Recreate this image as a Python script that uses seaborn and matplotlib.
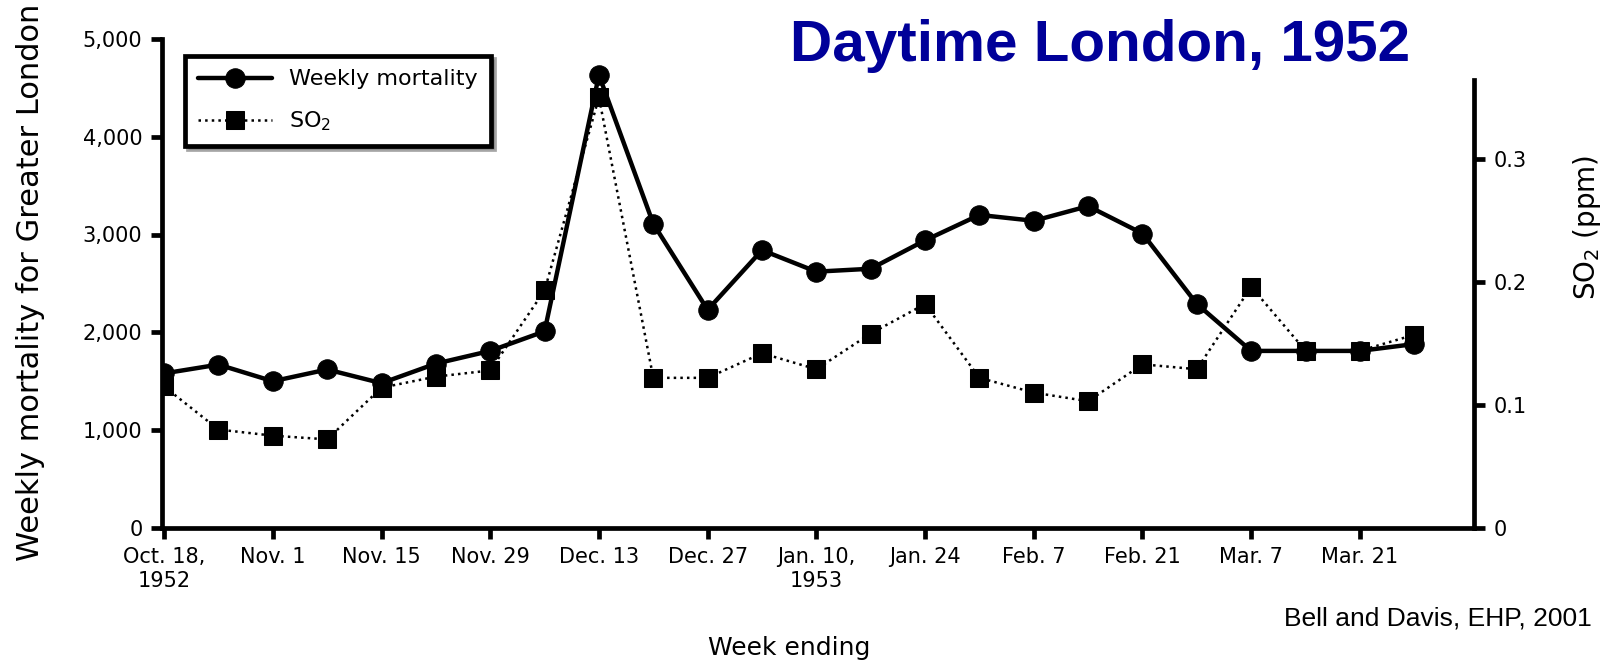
import matplotlib
matplotlib.use("Agg")
import matplotlib.pyplot as plt
import seaborn as sns

# DATA
weeks = list(range(24))
mortality = [1580, 1670, 1500, 1620, 1480, 1680, 1810, 2010, 4630, 3110,
             2230, 2840, 2620, 2650, 2940, 3200, 3140, 3290, 3010, 2290,
             1810, 1810, 1810, 1880]
so2 = [0.115, 0.080, 0.075, 0.072, 0.114, 0.123, 0.128, 0.193, 0.350, 0.122,
       0.122, 0.142, 0.129, 0.158, 0.182, 0.122, 0.110, 0.103, 0.133, 0.129,
       0.196, 0.144, 0.144, 0.157]
tick_weeks = [0, 2, 4, 6, 8, 10, 12, 14, 16, 18, 20, 22]
tick_labels = ["Oct. 18,\n1952", "Nov. 1", "Nov. 15", "Nov. 29", "Dec. 13",
               "Dec. 27", "Jan. 10,\n1953", "Jan. 24", "Feb. 7", "Feb. 21",
               "Mar. 7", "Mar. 21"]
mort_ticks = [0, 1000, 2000, 3000, 4000, 5000]
mort_tick_labels = ["0", "1,000", "2,000", "3,000", "4,000", "5,000"]
so2_ticks = [0, 0.1, 0.2, 0.3]
so2_tick_labels = ["0", "0.1", "0.2", "0.3"]

# STYLE SETTINGS
sns.set_style("white")
plt.rcParams["font.family"] = ["DejaVu Sans"]
plt.rcParams["text.color"] = "black"
plt.rcParams["xtick.color"] = "black"
plt.rcParams["ytick.color"] = "black"

narrow = ["Liberation Sans Narrow", "DejaVu Sans"]

fig = plt.figure(figsize=(16.08, 6.70), dpi=100)
ax = fig.add_axes([0.1007, 0.212, 0.8160, 0.730])
ax2 = ax.twinx()

sns.lineplot(x=weeks, y=mortality, ax=ax, color="black", linewidth=3.2,
             marker="o", markersize=14, markeredgecolor="black",
             label="Weekly mortality", legend=False)
sns.lineplot(x=weeks, y=so2, ax=ax2, color="black", linewidth=1.8,
             linestyle=":", marker="s", markersize=13, markeredgecolor="black",
             label="SO$_2$", legend=False)

ax.set_xlim(-0.04, 24.1)
ax.set_ylim(0, 5000)
ax2.set_ylim(0, 0.3975)

# spines
for a in (ax, ax2):
    for s in a.spines.values():
        s.set_visible(False)
ax.spines["left"].set_visible(True)
ax.spines["bottom"].set_visible(True)
ax2.spines["right"].set_visible(True)
ax2.spines["right"].set_bounds(0, 0.364)
for s in (ax.spines["left"], ax.spines["bottom"], ax2.spines["right"]):
    s.set_linewidth(3.4)
    s.set_color("black")

ax.set_xticks(tick_weeks)
ax.set_xticklabels(tick_labels, family=narrow, fontsize=15)
ax.set_yticks(mort_ticks)
ax.set_yticklabels(mort_tick_labels, family=narrow, fontsize=15)
ax2.set_yticks(so2_ticks)
ax2.set_yticklabels(so2_tick_labels, family=narrow, fontsize=15)

ax.tick_params(axis="both", direction="out", length=8, width=3.4,
               color="black", pad=6, bottom=True, left=True)
ax2.tick_params(axis="y", direction="out", length=8, width=3.4,
                color="black", pad=6, right=True)
ax.set_xlabel("")
ax.set_ylabel("")
ax2.set_ylabel("")

# legend
h1, l1 = ax.get_legend_handles_labels()
h2, l2 = ax2.get_legend_handles_labels()
leg = ax2.legend(h1 + h2, l1 + l2, loc="upper left",
                 bbox_to_anchor=(0.0175, 0.965), borderaxespad=0,
                 frameon=True, fancybox=False, shadow=True,
                 prop={"family": narrow, "size": 16},
                 handlelength=3.3, borderpad=0.6, labelspacing=0.9)
leg.get_frame().set_edgecolor("black")
leg.get_frame().set_linewidth(3.4)

# texts
fig.text(0.684, 0.931, "Daytime London, 1952", color="#000099",
         fontsize=42, fontweight="bold", family="Liberation Sans",
         ha="center", va="center")
fig.text(0.019, 0.579, "Weekly mortality for Greater London", rotation=90,
         fontsize=22, family=narrow, ha="center", va="center")
fig.text(0.987, 0.66, "SO$_2$ (ppm)", rotation=90, fontsize=20,
         family=narrow, ha="center", va="center")
fig.text(0.491, 0.033, "Week ending", fontsize=18, family=narrow,
         ha="center", va="center")
fig.text(0.990, 0.077, "Bell and Davis, EHP, 2001", fontsize=19,
         family="Liberation Sans", ha="right", va="center")

fig.savefig("out.png", dpi=100)
plt.close(fig)
